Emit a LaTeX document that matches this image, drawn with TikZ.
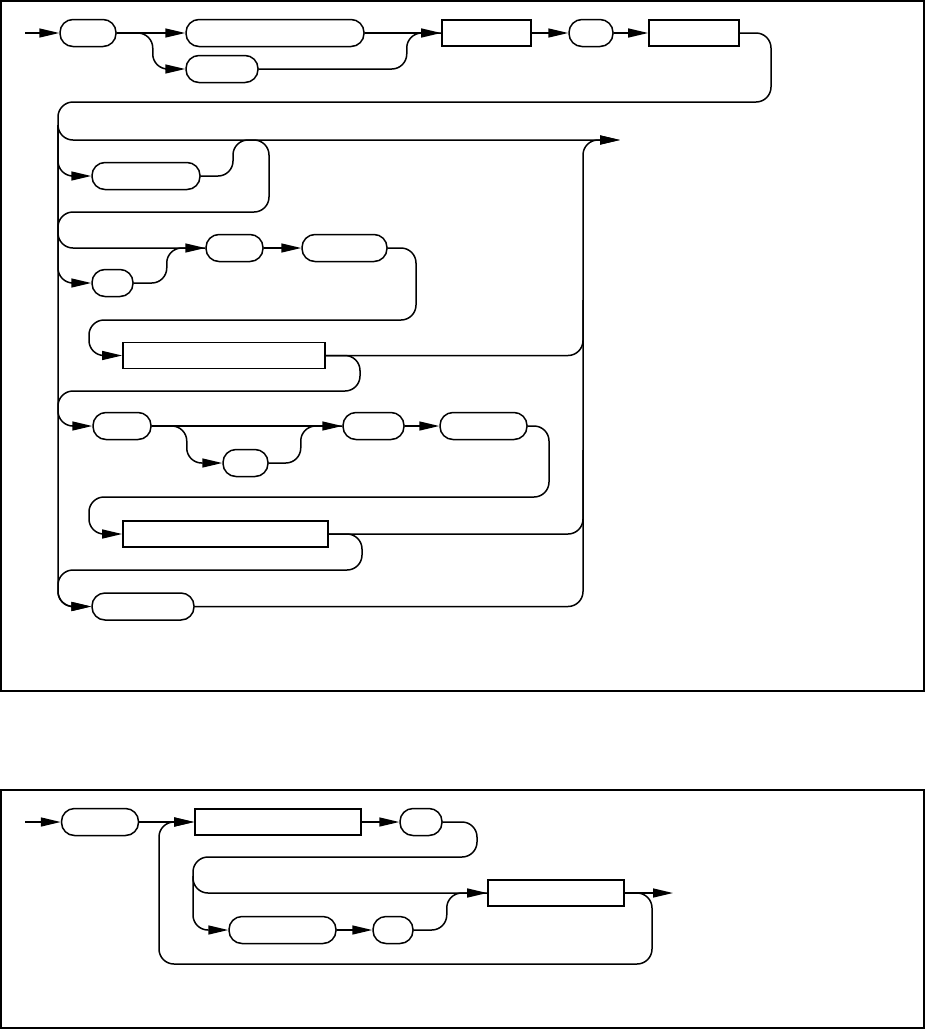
\documentclass[tikz,border=0pt]{standalone}
\usetikzlibrary{arrows.meta}
\tikzset{
  pill/.style={draw, line width=1.5pt, rounded corners=13pt, minimum height=27pt, inner sep=0pt},
  sbox/.style={draw, line width=1.7pt, minimum height=26pt, inner sep=0pt},
  rr/.style={line width=1.5pt, rounded corners=15pt},
  ar/.style={rr, -{Triangle[length=20pt,width=9pt]}}
}
\begin{document}
\begin{tikzpicture}[x=1pt, y=-1pt]
\useasboundingbox (0,0) rectangle (925,1029);
\draw[line width=1.1pt] (1,1) rectangle (924,691);
\draw[line width=1.1pt] (1,790) rectangle (924,1028);

% top diagram
\foreach \n/\x/\y/\w in {a1/88/33/56, a2/275/33/178, a3/222/69/72, a5/591/33/44,
    a7/146/176/108, a8/234.5/248/57, a9/344.5/248/85, a10/112.5/283/41,
    a12/122/426/58, a13/245.5/463/45, a14/373.5/426/61, a15/483.5/426/87,
    a17/143/606.5/102}
  \node[pill, minimum width=\w pt] (\n) at (\x,\y) {};
\foreach \n/\x/\y/\w in {a4/486.5/33/89, a6/694/33/90, a11/224/355.5/202, a16/225.5/534/205}
  \node[sbox, minimum width=\w pt] (\n) at (\x,\y) {};
\coordinate (in1) at (25,33);
\coordinate (out1) at (620,140);
\coordinate (railT) at (58,125);

\draw[ar] (in1) -- (a1.west);
\draw[ar] (a1.east) -- (a2.west);
\draw[ar] (a1.east) -- ++(36,0) |- (a3.west);
\draw[ar] (a2.east) -- (a4.west);
\draw[rr] (a3.east) -- ++(148,0) |- (a4.west);
\draw[ar] (a4.east) -- (a5.west);
\draw[ar] (a5.east) -- (a6.west);
\draw[ar] (a6.east) -| (771,102) -- (58,102) |- (a17.west);
\draw[ar] (railT) |- (out1);
\draw[ar] (railT) |- (a7.west);
\draw[ar] (a7.east) -| (233,140) -| (269,212) -| (58,248) -- (a8.west);
\draw[ar] (railT) |- (a10.west);
\draw[rr] (a10.east) -- ++(33,0) |- (a8.west);
\draw[ar] (a8.east) -- (a9.west);
\draw[ar] (a9.east) -| (416,320) -| (89,355.5) -- (a11.west);
\draw[rr] (a11.east) -| (583,300);
\draw[ar] (a11.east) -| (360,391) -| (58,426) -- (a12.west);
\draw[ar] (a12.east) -- (a14.west);
\draw[ar] (a12.east) -- ++(35,0) |- (a13.west);
\draw[rr] (a13.east) -- ++(32,0) |- (a14.west);
\draw[ar] (a14.east) -- (a15.west);
\draw[ar] (a15.east) -| (549,497) -| (89,534) -- (a16.west);
\draw[rr] (a16.east) -| (583,450);
\draw[ar] (a16.east) -| (362,570) -| (58,606.5) -- (a17.west);
\draw[ar] (a17.east) -| (583,140) -- (out1);

% bottom diagram
\foreach \n/\x/\y/\w in {b1/100/822/77, b3/421/822/42, b6/282.5/930/107, b7/393/930/40}
  \node[pill, minimum width=\w pt] (\n) at (\x,\y) {};
\foreach \n/\x/\y/\w in {b2/278/822/166, b5/556/893/136}
  \node[sbox, minimum width=\w pt] (\n) at (\x,\y) {};
\coordinate (in2) at (25,822);
\coordinate (out2) at (673,893);

\draw[ar] (in2) -- (b1.west);
\draw[ar] (b1.east) -- (b2.west);
\draw[ar] (b2.east) -- (b3.west);
\draw[ar] (b3.east) -| (477,857) -| (193,893) -- (b5.west);
\draw[ar] (193,876) |- (b6.west);
\draw[ar] (b6.east) -- (b7.west);
\draw[rr] (b7.east) -- ++(33,0) |- (b5.west);
\draw[ar] (b5.east) -- (out2);
\draw[ar] (b5.east) -| (652,964) -| (159,822) -- (b2.west);
\end{tikzpicture}
\end{document}
